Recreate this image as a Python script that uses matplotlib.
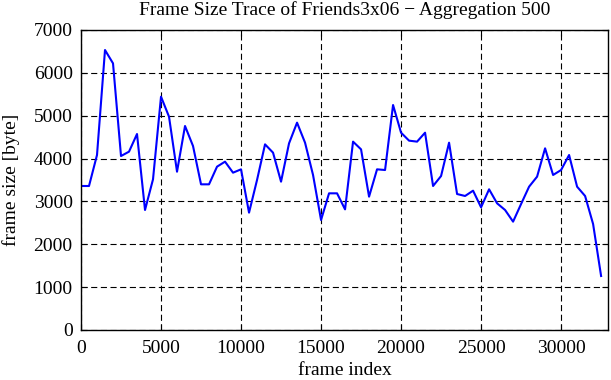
import matplotlib
matplotlib.use("Agg")
import matplotlib.pyplot as plt
import numpy as np

plt.rcParams['font.family'] = ['Liberation Serif', 'DejaVu Serif']

frame_index = np.arange(0, 33000, 500)
frame_size = [3360, 3360, 4083, 6533, 6222, 4060, 4161, 4573, 2800, 3516,
              5444, 4977, 3694, 4760, 4293, 3399, 3399, 3811, 3928, 3671,
              3749, 2738, 3500, 4332, 4138, 3461, 4355, 4838, 4371, 3617,
              2567, 3189, 3189, 2815, 4395, 4215, 3111, 3749, 3733, 5250,
              4604, 4418, 4395, 4604, 3360, 3593, 4371, 3173, 3127, 3251,
              2862, 3283, 2956, 2800, 2528, 2940, 3344, 3578, 4239, 3617,
              3733, 4083, 3344, 3127, 2473, 1260]

title = "Frame Size Trace of Friends3x06 \u2212 Aggregation 500"
xlabel = "frame index"
ylabel = "frame size [byte]"
xticks = [0, 5000, 10000, 15000, 20000, 25000, 30000]
yticks = [0, 1000, 2000, 3000, 4000, 5000, 6000, 7000]

fs = 14
fig = plt.figure(figsize=(6.11, 3.80), dpi=100)
ax = fig.add_axes([81/611, 50/380, (608.3-81)/611, 300/380])
ax.plot(frame_index, frame_size, color='#0000ff', lw=1.5)
ax.set_xlim(0, 32950)
ax.set_ylim(0, 7000)
ax.set_xticks(xticks)
ax.set_yticks(yticks)
ax.grid(True, color='black', linestyle=(0, (5.5, 3.2)), linewidth=0.8)
ax.tick_params(direction='in', top=True, right=True, labelsize=fs, length=4.5, width=0.8)
ax.tick_params(axis='x', pad=7)
ax.tick_params(axis='y', pad=6)
for s in ax.spines.values():
    s.set_linewidth(1.0)
ax.set_title(title, fontsize=fs, pad=11)
ax.set_xlabel(xlabel, fontsize=fs, labelpad=4)
ax.set_ylabel(ylabel, fontsize=fs, labelpad=10)
fig.savefig("out.png", dpi=100)
